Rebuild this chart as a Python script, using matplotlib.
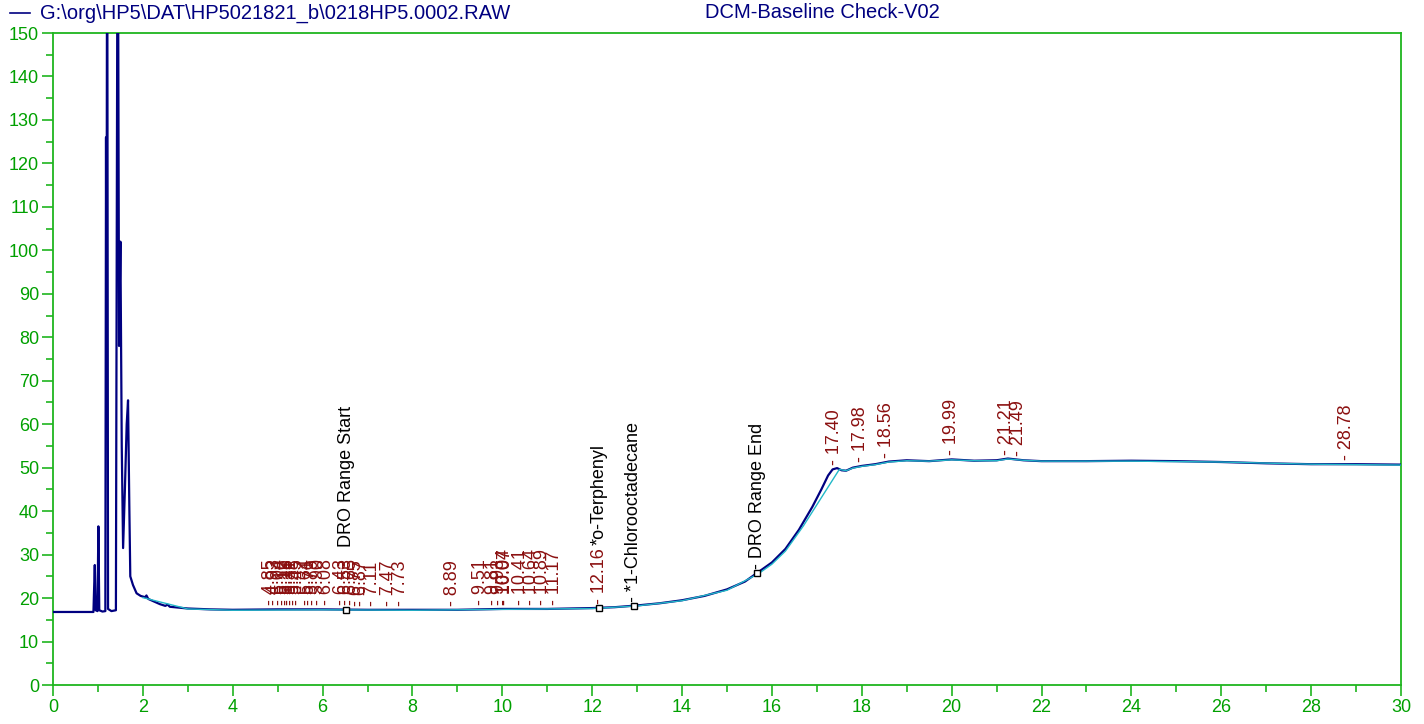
import numpy as np
import matplotlib
matplotlib.use("Agg")
import matplotlib.pyplot as plt
from matplotlib.lines import Line2D

plt.rcParams['font.family'] = ['Liberation Sans', 'DejaVu Sans']

# ---- data ----
t = [0, 0.90, 0.93, 0.95, 0.99, 1.01, 1.03, 1.10, 1.165, 1.18, 1.19, 1.205, 1.225,
     1.30, 1.40, 1.44, 1.47, 1.50, 1.53, 1.56, 1.60, 1.64, 1.67, 1.70, 1.72, 1.78,
     1.86, 1.95, 2.05, 2.08, 2.12, 2.25, 2.38, 2.50, 2.55, 2.60, 3.0, 3.5, 4.0, 5.0,
     6.0, 7.0, 8.0, 9.0, 10.0, 11.0, 12.0, 12.5, 13.0, 13.5, 14.0, 14.5, 15.0, 15.4,
     15.7, 16.0, 16.3, 16.6, 16.9, 17.1, 17.25, 17.35, 17.45, 17.55, 17.65, 17.8,
     18.0, 18.3, 18.6, 19.0, 19.5, 20.0, 20.5, 21.0, 21.25, 21.6, 22.0, 23.0, 24.0,
     25.0, 26.0, 27.0, 28.0, 29.0, 30.0]
signal = [16.8, 16.8, 27.6, 17.2, 17.0, 36.5, 17.2, 16.9, 17.0, 126, 60, 200, 17.5,
          17.0, 17.2, 200, 78, 102, 55, 31.5, 45, 60, 65.5, 40, 25, 23,
          21.1, 20.5, 20.2, 20.6, 19.8, 19.2, 18.6, 18.2, 18.5, 18.0, 17.6, 17.4, 17.3, 17.4,
          17.4, 17.3, 17.3, 17.3, 17.5, 17.5, 17.7, 17.9, 18.3, 18.8, 19.5, 20.5, 22.0, 23.8,
          26.0, 28.2, 31.3, 35.7, 41.0, 45.0, 48.2, 49.6, 49.9, 49.4, 49.3, 50.0,
          50.4, 50.8, 51.4, 51.7, 51.5, 51.9, 51.6, 51.7, 52.1, 51.7, 51.5, 51.5, 51.6,
          51.5, 51.3, 51.0, 50.8, 50.8, 50.7]

base_t = [2.0, 3.0, 4.0, 6.0, 8.0, 10.0, 12.0, 13.0, 14.0, 15.0, 15.7, 16.0, 16.3,
          16.7, 17.5, 17.65, 17.8, 18.0, 18.3, 18.6, 19.0, 19.5, 20.0, 20.5, 21.0,
          21.25, 21.6, 22.0, 24.0, 26.0, 28.0, 30.0]
base_v = [20.1, 17.5, 17.2, 17.3, 17.2, 17.4, 17.6, 18.2, 19.4, 21.8, 25.6, 27.8, 30.8,
          36.6, 49.6, 49.3, 49.9, 50.3, 50.7, 51.3, 51.6, 51.5, 51.8, 51.6, 51.6,
          52.0, 51.7, 51.5, 51.5, 51.3, 50.8, 50.6]

peak_times = [4.85, 4.93, 5.04, 5.12, 5.19, 5.25, 5.31, 5.38, 5.45, 5.64, 5.71, 5.79,
              5.90, 6.08, 6.43, 6.53, 6.65, 6.75, 6.87, 7.11, 7.47, 7.73, 8.89, 9.51,
              9.81, 9.93, 10.04, 10.07, 10.41, 10.64, 10.89, 11.17, 12.16, 17.40,
              17.98, 18.56, 19.99, 21.21, 21.49, 28.78]

named_with_rt = {6.53: "DRO Range Start", 12.16: "*o-Terphenyl"}
named_only = {12.93: "*1-Chlorooctadecane", 15.67: "DRO Range End"}
marker_times = [6.53, 12.16, 12.93, 15.67]

header_file = r"G:\org\HP5\DAT\HP5021821_b\0218HP5.0002.RAW"
header_title = "DCM-Baseline Check-V02"

x_ticks = list(range(0, 31, 2))
y_ticks = list(range(0, 151, 10))

# ---- style ----
NAVY = '#000080'
CYAN = '#22B8C8'
GREEN = '#1FB51F'
TICKGREEN = '#00A000'
RED = '#8B1010'
LBL = 13

fig = plt.figure(figsize=(14.24, 7.24), dpi=100)
ax = fig.add_axes([53/1424, 39/724, (1401-53)/1424, (685-33)/724])

ax.plot(t, signal, color=NAVY, lw=1.6, zorder=3)
ax.plot(base_t, base_v, color=CYAN, lw=1.0, zorder=4)

ax.set_xlim(0, 30)
ax.set_ylim(0, 150)
ax.set_xticks(x_ticks)
ax.set_xticks(range(1, 30, 2), minor=True)
ax.set_yticks(y_ticks)
ax.set_yticks(range(5, 150, 10), minor=True)
ax.tick_params(which='major', direction='out', length=8, width=1.2, color=GREEN,
               labelcolor=TICKGREEN, labelsize=13, pad=2)
ax.tick_params(which='minor', direction='out', length=5, width=1.2, color=GREEN)
for s in ax.spines.values():
    s.set_color(GREEN)
    s.set_linewidth(1.3)

def curve_y(x):
    return float(np.interp(x, t, signal))

for pt in peak_times:
    ax.annotate("- %.2f" % pt, xy=(pt, curve_y(pt)), xytext=(0, 3),
                textcoords='offset points', rotation=90, ha='center', va='bottom',
                color=RED, fontsize=LBL, zorder=5)

for pt, name in named_with_rt.items():
    ax.annotate(name, xy=(pt, curve_y(pt)), xytext=(0, 45),
                textcoords='offset points', rotation=90, ha='center', va='bottom',
                color='black', fontsize=LBL, zorder=5)

for pt, name in named_only.items():
    ax.annotate("- " + name, xy=(pt, curve_y(pt)), xytext=(0, 3),
                textcoords='offset points', rotation=90, ha='center', va='bottom',
                color='black', fontsize=LBL, zorder=5)

mx = marker_times
my = [curve_y(m) for m in mx]
ax.plot(mx, my, linestyle='none', marker='s', markersize=5, markerfacecolor='white',
        markeredgecolor='black', markeredgewidth=1.0, zorder=6)

# header
fig.add_artist(Line2D([10/1424, 30/1424], [1-13/724, 1-13/724], color=NAVY, lw=1.2))
fig.text(40/1424, 1-13/724, header_file, color=NAVY, fontsize=14.5, va='center', ha='left')
fig.text(705/1424, 1-13/724, header_title, color=NAVY, fontsize=14.5, va='center', ha='left')

fig.savefig("out.png", dpi=100)
